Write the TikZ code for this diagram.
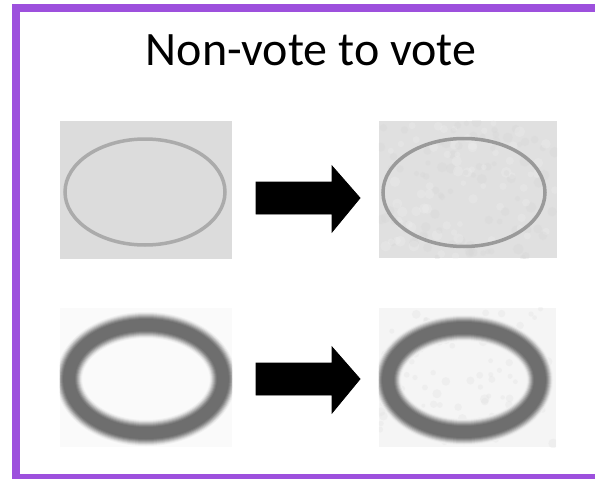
\documentclass[tikz,border=0pt]{standalone}
\usepackage{fontspec}
\setmainfont{Carlito}
\definecolor{frame}{HTML}{9D50DD}
\definecolor{boxA}{HTML}{DCDCDC}
\definecolor{boxB}{HTML}{E0E0E0}
\definecolor{ringA}{HTML}{ABABAB}
\definecolor{ringB}{HTML}{6E6E6E}
\tikzset{
  thinring/.style={draw=ringA, line width=3.5pt},
  arrowshape/.style={fill=black, draw=black, line width=0.8pt},
}
\newcommand{\blurring}[4]{% center x, y, rx, ry
  \foreach \w/\s in {26/10,24/20,22/35,20/50,18/65,16/80,14/92,12/100}{
    \draw[ringB!\s, line width=\w pt] (#1,#2) ellipse [x radius=#3, y radius=#4];
  }
}
\begin{document}
\begin{tikzpicture}[x=1pt,y=-1pt]
\useasboundingbox (0,0) rectangle (595,479);
\begin{scope}
\clip (0,0) rectangle (595,479);
\draw[frame, line width=8pt] (16,8) -- (605,8);
\draw[frame, line width=8pt] (16,4) -- (16,478);
\draw[frame, line width=8pt] (12,478) -- (605,478);
\end{scope}
\node[font=\fontsize{48}{56}\selectfont, anchor=base] (title) at (311,65) {Non-vote to vote};
% top-left image
\node[fill=boxA, minimum width=172pt, minimum height=138pt, inner sep=0pt] (tl) at (146,190) {};
\draw[thinring] (tl.center) ++(-1,2) ellipse [x radius=80, y radius=53];
% top-right image
\node[fill=boxB, minimum width=178pt, minimum height=137pt, inner sep=0pt] (tr) at (468,189.5) {};
\begin{scope}
\clip (tr.south west) rectangle (tr.north east);
\pgfmathsetseed{7}
\foreach \i in {1,...,160}{
  \pgfmathsetmacro{\px}{380+177*rnd}
  \pgfmathsetmacro{\py}{121+137*rnd}
  \pgfmathsetmacro{\sh}{rnd>0.5 ? 94 : 84}
  \fill[white!\sh!black, opacity=0.3] (\px,\py) circle (2.5+3*rnd);
}
\end{scope}
\draw[draw=ringA!90!black, line width=3.5pt] (464,192.5) ellipse [x radius=81, y radius=54];
% bottom-left image
\node[fill=white!98!black, minimum width=172pt, minimum height=139pt, inner sep=0pt] (bl) at (146,377.5) {};
\begin{scope}
\clip (bl.south west) rectangle (bl.north east);
\blurring{146}{379}{77}{54}
\end{scope}
% bottom-right image
\node[fill=white!96!black, minimum width=177pt, minimum height=139pt, inner sep=0pt] (br) at (467.5,377.5) {};
\begin{scope}
\clip (br.south west) rectangle (br.north east);
\pgfmathsetseed{11}
\foreach \i in {1,...,90}{
  \pgfmathsetmacro{\px}{380+176*rnd}
  \pgfmathsetmacro{\py}{308+139*rnd}
  \fill[white!88!black, opacity=0.3] (\px,\py) circle (2+3*rnd);
}
\blurring{464}{380}{76}{52}
\end{scope}
% arrows
\coordinate (a1) at (256,197);
\coordinate (a2) at (256,378);
\foreach \c in {a1,a2}{
  \draw[arrowshape] (\c) ++(0,-15) -- ++(76,0) -- ++(0,-16) -- ++(28,32) -- ++(-28,34) -- ++(0,-18) -- ++(-76,0) -- cycle;
}
\end{tikzpicture}
\end{document}
